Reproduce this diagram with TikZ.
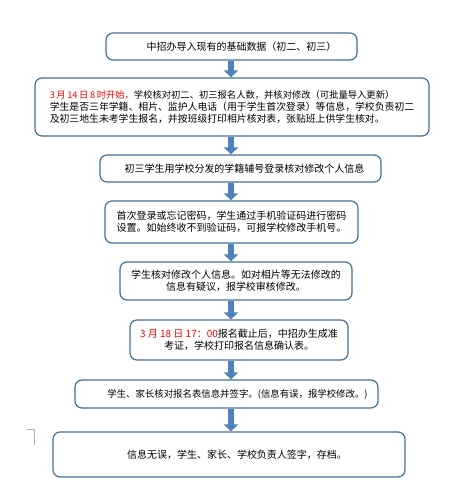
\documentclass[tikz,border=0pt]{standalone}
\usepackage{fontspec}
\setmainfont{Noto Sans CJK SC}
\usetikzlibrary{arrows.meta,calc}
\definecolor{boxline}{RGB}{65,113,156}
\definecolor{arrblue}{RGB}{79,129,189}
\definecolor{hred}{RGB}{255,0,0}
\begin{document}
\begin{tikzpicture}[x=1pt,y=-1pt,
  flowbox/.style={draw=boxline,line width=1.2pt,rounded corners=7pt,fill=white,
    font=\fontsize{10}{11.7}\selectfont,inner sep=0pt},
  blockarrow/.style={draw=arrblue,line width=6.5pt,
    -{Triangle[length=7pt,width=14pt]},shorten >=0pt}
]
\useasboundingbox (0,0) rectangle (453,493);
\coordinate (ax) at (231,0);
% boxes
\node[flowbox,minimum width=251pt,minimum height=27pt] (b1) at (231.5,46.5)
  {\hspace*{20pt}中招办导入现有的基础数据（初二、初三）};
\node[flowbox,minimum width=394pt,minimum height=58pt,align=left,
  font=\fontsize{9.85}{11.7}\selectfont] (b2) at (232,107)
  {{\fontsize{9.3}{11.7}\selectfont{\color{hred}3\,月\,14\,日\,8\,时开始，}学校核对初二、初三报名人数，并核对修改（可批量导入更新）}\\
   学生是否三年学籍、相片、监护人电话（用于学生首次登录）等信息，学校负责初二\\
   及初三地生未考学生报名，并按班级打印相片核对表，张贴班上供学生核对。};
\node[flowbox,minimum width=281pt,minimum height=27pt] (b3) at (240.5,168.5)
  {\hspace*{8pt}初三学生用学校分发的学籍辅号登录核对修改个人信息};
\node[flowbox,minimum width=253pt,minimum height=42pt,align=left] (b4) at (231.5,222)
  {首次登录或忘记密码，学生通过手机验证码进行密码\\设置。如始终收不到验证码，可报学校修改手机号。};
\node[flowbox,minimum width=232pt,minimum height=38pt,align=center] (b5) at (236,281)
  {学生核对修改个人信息。如对相片等无法修改的\\信息有疑议，报学校审核修改。};
\node[flowbox,minimum width=218pt,minimum height=40pt,align=center] (b6) at (239,340)
  {{\color{hred}3 月 18 日 17：00}报名截止后，中招办生成准\\考证，学校打印报名信息确认表。};
\node[flowbox,minimum width=303pt,minimum height=28pt,
  font=\fontsize{9.4}{11}\selectfont] (b7) at (226.5,394)
  {\hspace*{22pt}学生、家长核对报名表信息并签字。(信息有误，报学校修改。)};
\node[flowbox,minimum width=352pt,minimum height=45pt] (b8) at (229,454.5)
  {\hspace*{16pt}信息无误，学生、家长、学校负责人签字，存档。};
% arrows
\draw[blockarrow] (b1.south -| ax) -- (b2.north -| ax);
\draw[blockarrow] (b2.south -| ax) -- (b3.north -| ax);
\draw[blockarrow] (b3.south -| ax) -- (b4.north -| ax);
\draw[blockarrow] (b4.south -| ax) -- (b5.north -| ax);
\draw[blockarrow] (b5.south -| ax) -- (b6.north -| ax);
\draw[blockarrow] (b6.south -| ax) -- (b7.north -| ax);
\draw[blockarrow] (b7.south -| ax) -- (b8.north -| ax);
% margin mark
\coordinate (m1) at (27,429);
\coordinate (m2) at (34,429);
\coordinate (m3) at (34,445);
\draw[gray!60,line width=0.6pt] (m1) -- (m2) -- (m3);
\end{tikzpicture}
\end{document}
